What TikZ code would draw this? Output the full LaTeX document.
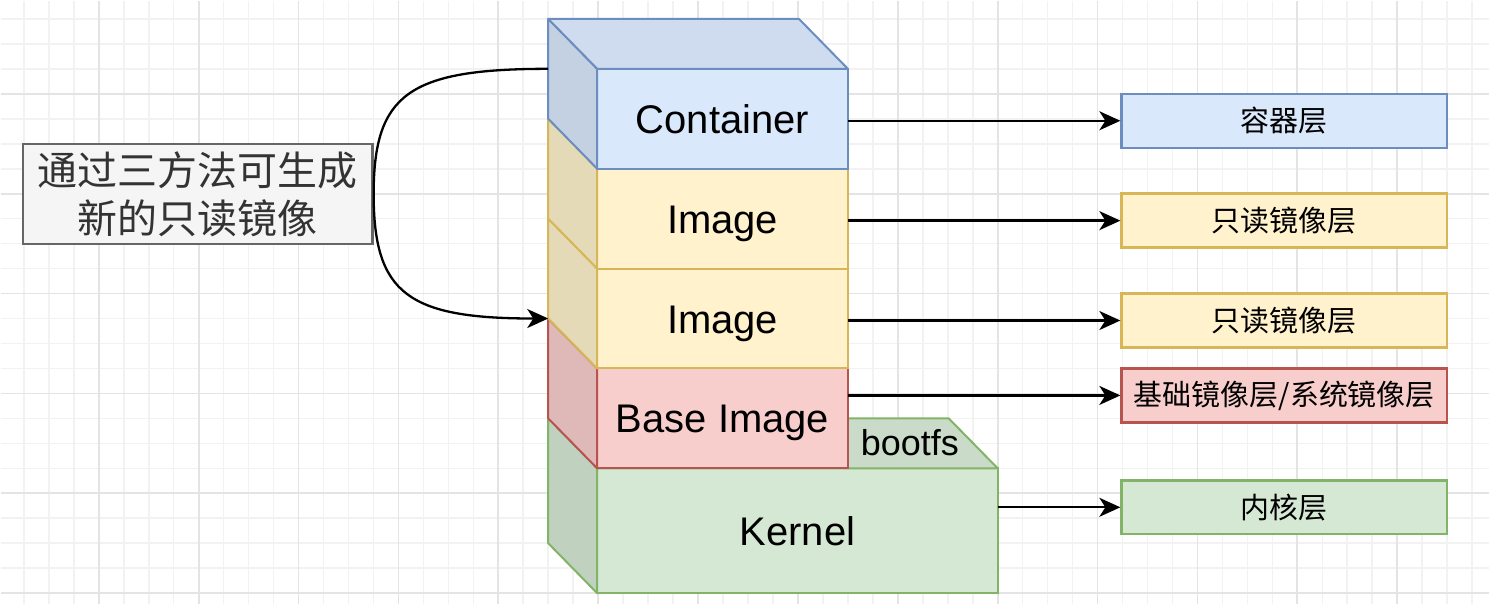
\documentclass[tikz,border=0pt]{standalone}
\usepackage{fontspec}
\setmainfont{Liberation Sans}
\newfontfamily\cjk{Noto Sans CJK SC}
\usepackage{xcolor}
\usetikzlibrary{arrows.meta}

\definecolor{fillblue}{HTML}{DAE8FC}
\definecolor{lineblue}{HTML}{6C8EBF}
\definecolor{fillyellow}{HTML}{FFF2CC}
\definecolor{lineyellow}{HTML}{D6B656}
\definecolor{fillred}{HTML}{F8CECC}
\definecolor{linered}{HTML}{B85450}
\definecolor{fillgreen}{HTML}{D5E8D4}
\definecolor{linegreen}{HTML}{82B366}
\definecolor{fillgray}{HTML}{F5F5F5}
\definecolor{linegray}{HTML}{666666}
\definecolor{textgray}{HTML}{333333}
\definecolor{gridminor}{HTML}{F2F2F2}
\definecolor{gridmajor}{HTML}{E4E4E4}

\begin{document}
\begin{tikzpicture}[x=1pt, y=-1pt,
    minorline/.style={draw=gridminor, line width=1.6pt},
    majorline/.style={draw=gridmajor, line width=1.8pt},
    layer/.style={draw=line#1, fill=fill#1, line width=2pt, inner sep=0pt, outer sep=0pt,
        minimum width=251pt, minimum height=100pt, text height=29pt, text depth=0pt,
        font=\fontsize{40}{48}\selectfont},
    face/.style={draw=line#1, fill=fill#1!90!black, line width=2pt, line join=round},
    topface/.style={draw=line#1, fill=fill#1!95!black, line width=2pt, line join=round},
    tag/.style={draw=line#1, fill=fill#1, line width=2.4pt, inner sep=0pt,
        minimum width=326pt, minimum height=54pt, font=\cjk\fontsize{29}{34}\selectfont},
    conn/.style={-{Stealth[length=21pt, width=19pt, inset=6pt]}, line width=2.3pt}]

    % grid
    \fill[white] (0,0) rectangle (1490,604);
    \foreach \gx in {23,48,...,1473} \draw[minorline] (\gx,0) -- (\gx,604);
    \foreach \gy in {18,43,...,593} \draw[minorline] (0,\gy) -- (1490,\gy);
    \foreach \gx in {98,198,...,1398} \draw[majorline] (\gx,0) -- (\gx,604);
    \foreach \gy in {93,193,...,593} \draw[majorline] (0,\gy) -- (1490,\gy);
    \useasboundingbox (0,0) rectangle (1490,604);

    % kernel
    \node[layer=green, minimum width=401pt, minimum height=125pt] (kern) at (797.5,530.5) {Kernel};
    \draw[topface=green] (kern.north west) -- ++(-49,-50) -- ++(401,0) -- (kern.north east) -- cycle;
    \draw[face=green] (kern.north west) -- ++(-49,-50) -- ++(0,125) -- (kern.south west) -- cycle;
    \node[font=\fontsize{36}{40}\selectfont] (boot) at (910,442) {bootfs};

    % layers
    \foreach \n/\txt/\y/\col in {base/Base Image/418/red, img2/Image/318/yellow,
                                 img1/Image/218/yellow, cont/Container/118/blue} {
        \node[layer=\col] (\n) at (722.5,\y) {\txt};
        \draw[face=\col] (\n.north west) -- ++(-49,-50) -- ++(0,100) -- (\n.south west) -- cycle;
    }
    \draw[topface=blue] (cont.north west) -- ++(-49,-50) -- ++(251,0) -- (cont.north east) -- cycle;

    % tags
    \node[tag=blue] (tcont) at (1285,120) {容器层};
    \node[tag=yellow] (timg1) at (1285,220) {只读镜像层};
    \node[tag=yellow] (timg2) at (1285,320) {只读镜像层};
    \node[tag=red] (tbase) at (1285,395) {基础镜像层/系统镜像层};
    \node[tag=green] (tkern) at (1285,507) {内核层};

    \foreach \n in {cont,img1,img2,base,kern}
        \draw[conn] (t\n.west -| \n.east) -- (t\n.west);

    % note
    \node[draw=linegray, fill=fillgray, text=textgray, line width=2.4pt, inner sep=0pt,
          minimum width=350pt, minimum height=100pt, align=center,
          font=\cjk\fontsize{40}{48}\selectfont] (note) at (197,193.5) {通过三方法可生成\\新的只读镜像};

    \coordinate (from) at ([shift={(-49,-50)}]cont.west);
    \coordinate (into) at ([shift={(-49,-50)}]img2.south west);
    \draw[conn] (from) .. controls +(-140,0) and +(0,-100) .. (note.east)
                       .. controls +(0,100) and +(-140,0) .. (into);

\end{tikzpicture}
\end{document}
